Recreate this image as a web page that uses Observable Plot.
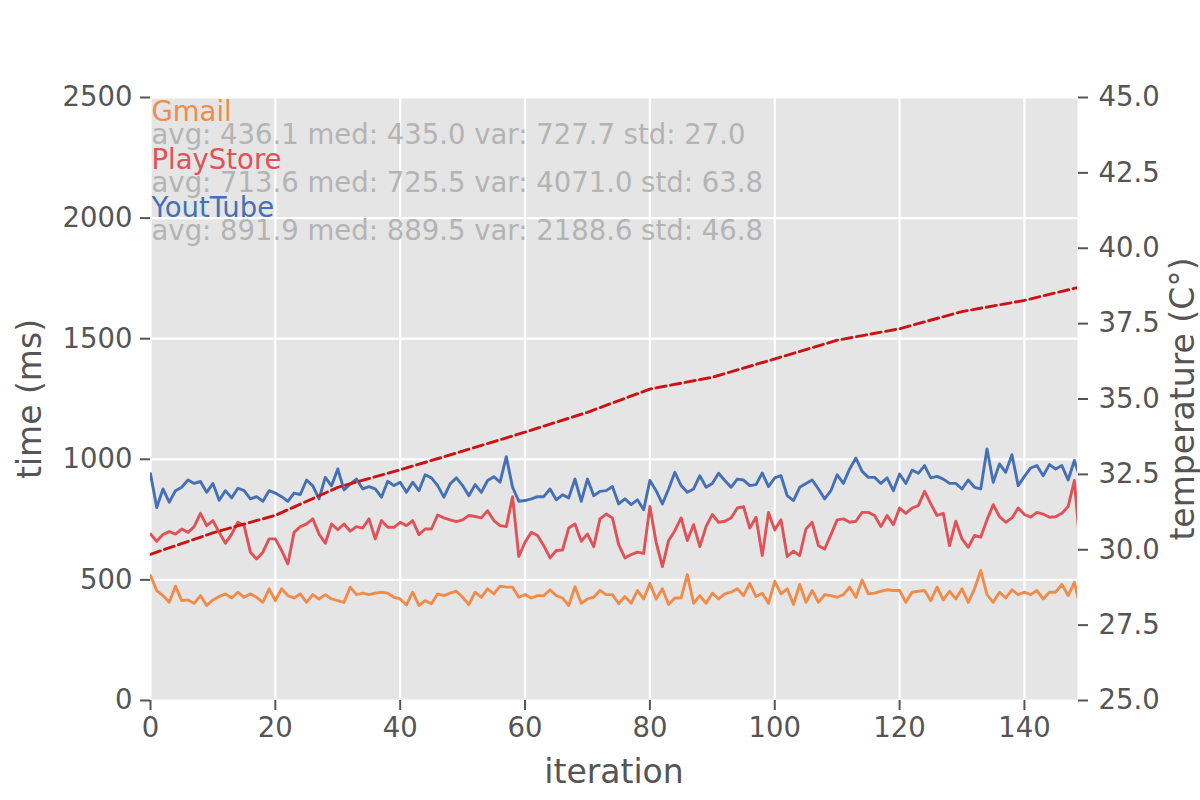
<!DOCTYPE html>
<html>
<head>
<meta charset="utf-8">
<script src="https://cdn.jsdelivr.net/npm/d3@7"></script>
<script src="https://cdn.jsdelivr.net/npm/@observablehq/plot@0.6"></script>
<style>
  html, body { margin: 0; padding: 0; background: #ffffff; }
  #chart { width: 1200px; height: 800px; }
</style>
</head>
<body>
<div id="chart"></div>
<script>
const gmail = [518,456,435,407,474,414,417,403,435,394,417,431,442,425,449,428,442,428,407,463,
  414,463,435,425,442,407,439,421,439,421,414,407,470,439,445,439,445,449,445,428,
  421,396,449,394,414,401,442,435,445,453,428,398,449,428,463,442,474,470,470,428,
  439,425,435,435,459,435,425,394,472,403,421,428,456,439,439,401,431,403,456,421,
  486,421,463,398,425,425,522,403,435,403,445,421,442,449,463,435,486,431,445,403,
  494,442,463,398,481,407,456,407,439,435,428,439,470,428,500,442,445,453,459,456,
  456,407,449,453,456,414,470,417,453,421,463,407,463,539,439,407,449,425,459,439,
  449,439,456,421,449,449,481,435,490,380];
const playStore = [690,660,688,700,690,711,697,721,776,725,746,697,652,690,739,725,615,587,615,670,
  670,622,566,697,721,732,753,690,652,732,708,732,702,721,715,753,670,746,718,718,
  739,725,746,688,711,711,769,757,749,742,749,767,763,757,787,746,725,721,845,597,
  656,697,684,642,591,622,624,715,732,660,690,638,753,773,757,646,591,605,615,610,
  804,656,555,663,704,757,663,729,638,721,771,739,743,757,798,804,715,760,601,780,
  707,749,597,619,601,711,739,642,628,688,749,753,739,743,780,780,767,721,767,729,
  798,776,798,808,867,815,767,776,642,743,670,635,684,677,749,812,762,739,757,798,
  771,760,780,773,760,762,776,804,912,608];
const youTube = [940,800,877,822,870,884,914,900,908,863,900,830,870,840,880,870,836,845,826,870,
  860,845,826,860,854,914,890,836,925,890,960,873,898,918,877,887,877,843,909,891,
  905,863,905,870,936,923,891,843,898,923,891,849,895,863,912,928,905,1011,884,826,
  829,836,845,845,877,832,853,840,918,826,918,849,867,870,887,815,836,812,832,791,
  912,870,815,877,946,891,863,877,932,884,900,942,912,884,918,914,891,895,943,887,
  923,932,849,829,884,900,914,877,836,870,936,900,960,1005,950,925,925,900,923,870,
  939,900,955,942,974,923,929,918,900,900,877,914,884,877,1043,905,981,946,1019,891,
  929,964,974,932,978,960,974,914,995,915];
const iterations = gmail.map((_, k) => k);

const tempIterations = [0,10,20,30,40,50,60,70,80,90,100,110,120,130,140,149];
const temperature = [29.85,30.56,31.14,32.07,32.65,33.27,33.90,34.56,35.33,35.72,36.33,36.95,37.33,37.90,38.27,38.72];

const xTicks = [0,20,40,60,80,100,120,140];
const yTicks = [0,500,1000,1500,2000,2500];
const tempTicks = [25,27.5,30,32.5,35,37.5,40,42.5,45];

const seriesNames = ["Gmail","PlayStore","YoutTube"];
const seriesStats = [
  "avg: 436.1 med: 435.0 var: 727.7 std: 27.0",
  "avg: 713.6 med: 725.5 var: 4071.0 std: 63.8",
  "avg: 891.9 med: 889.5 var: 2188.6 std: 46.8"
];
const seriesColors = ["#f08c4b","#e05257","#4670b5"];
const seriesValues = [gmail, playStore, youTube];

// temperature axis mapped onto the time scale: 25..45 °C -> 0..2500 ms
const tempToMs = t => (t - 25) * 125;

const FS = 27.5;
const marks = [
  Plot.frame({fill: "#e5e5e5", stroke: "none"}),
  Plot.gridX(xTicks, {stroke: "#ffffff", strokeOpacity: 1, strokeWidth: 2.2}),
  Plot.gridY(yTicks, {stroke: "#ffffff", strokeOpacity: 1, strokeWidth: 2.2}),
];
seriesValues.forEach((vals, s) => {
  marks.push(Plot.line(iterations, {
    x: d => d, y: (d, k) => vals[k],
    stroke: seriesColors[s], strokeWidth: 2.9, clip: true
  }));
});
marks.push(Plot.line(tempIterations, {
  x: d => d, y: (d, k) => tempToMs(temperature[k]),
  stroke: "#cc1212", strokeWidth: 2.9, strokeDasharray: "10.3,4.5", clip: true
}));
seriesNames.forEach((name, s) => {
  marks.push(Plot.text([name], {
    frameAnchor: "top-left", text: d => d, textAnchor: "start", lineAnchor: "bottom",
    dx: 1, dy: 23 + 48 * s, fill: seriesColors[s], fontSize: FS
  }));
  marks.push(Plot.text([seriesStats[s]], {
    frameAnchor: "top-left", text: d => d, textAnchor: "start", lineAnchor: "bottom",
    dx: 1, dy: 46.5 + 48 * s, fill: "#b4b4b4", fontSize: FS
  }));
});
marks.push(
  Plot.axisX(xTicks, {tickSize: 10, tickPadding: 7, fontSize: FS, strokeWidth: 2, label: null,
    tickFormat: d => String(d)}),
  Plot.axisY(yTicks, {anchor: "left", tickSize: 10, tickPadding: 8, fontSize: FS, strokeWidth: 2,
    label: null, tickFormat: d => String(d)}),
  Plot.axisY(tempTicks.map(tempToMs), {anchor: "right", tickSize: 10, tickPadding: 11, fontSize: FS,
    strokeWidth: 2, label: null, tickFormat: d => (25 + d / 125).toFixed(1)}),
  Plot.text(["iteration"], {frameAnchor: "bottom", text: d => d, dy: 72, lineAnchor: "middle",
    fontSize: 33, fill: "#555555"}),
  Plot.text(["time (ms)"], {frameAnchor: "left", text: d => d, dx: -120, rotate: -90,
    textAnchor: "middle", lineAnchor: "middle", fontSize: 33, fill: "#555555"}),
  Plot.text(["temperature (C°)"], {frameAnchor: "right", text: d => d, dx: 106, rotate: -90,
    textAnchor: "middle", lineAnchor: "middle", fontSize: 33, fill: "#555555"})
);

const chart = Plot.plot({
  width: 1200,
  height: 800,
  marginTop: 97,
  marginBottom: 100,
  marginLeft: 150,
  marginRight: 123,
  x: {domain: [0, 148.5]},
  y: {domain: [0, 2500]},
  style: {fontFamily: "DejaVu Sans", color: "#555555", background: "#ffffff", overflow: "visible"},
  marks
});
document.getElementById("chart").appendChild(chart);
</script>
</body>
</html>
